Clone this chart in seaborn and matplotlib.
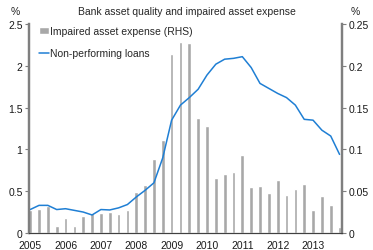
import numpy as np
import pandas as pd
import matplotlib
matplotlib.use("Agg")
import matplotlib.pyplot as plt
import seaborn as sns

# quarterly dates, 2005 Q1 .. 2013 Q4
quarters = [2005 + 0.25 * i for i in range(36)]

# Non-performing loans (% , LHS)
npl = [0.28, 0.33, 0.33, 0.28, 0.29, 0.27, 0.25, 0.215,
       0.28, 0.275, 0.30, 0.34, 0.43, 0.51, 0.60, 0.90,
       1.35, 1.53, 1.62, 1.72, 1.89, 2.02, 2.08, 2.09,
       2.11, 1.98, 1.79, 1.73, 1.67, 1.62, 1.53, 1.36,
       1.35, 1.23, 1.16, 0.94]

# Impaired asset expense (% , RHS)
impaired = [0.028, 0.029, 0.032, 0.008, 0.018, 0.008, 0.020, 0.024,
            0.024, 0.025, 0.0225, 0.027, 0.049, 0.057, 0.089, 0.111,
            0.214, 0.229, 0.227, 0.138, 0.128, 0.066, 0.070, 0.073,
            0.093, 0.055, 0.056, 0.048, 0.063, 0.045, 0.053, 0.058,
            0.027, 0.044, 0.033, 0.007]

year_ticks = list(range(2005, 2014))

df = pd.DataFrame({"date": quarters, "npl": npl, "impaired": impaired})

sns.set_theme(style="white")
plt.rcParams["font.family"] = ["Liberation Sans", "DejaVu Sans"]
plt.rcParams["font.size"] = 7.5

fig = plt.figure(figsize=(3.73, 2.51), dpi=100)
ax = fig.add_axes([0.079, 0.068, 0.838, 0.832])
ax2 = ax.twinx()

# bars on the base axes (drawn underneath the line)
sns.barplot(data=df, x="date", y="impaired", native_scale=True, width=0.42,
            color="#a8a8a8", saturation=1, ax=ax, label="Impaired asset expense (RHS)")
sns.lineplot(data=df, x="date", y="npl", color="#1f7fd4", linewidth=1.1,
             ax=ax2, label="Non-performing loans")

# swap sides: bars, line off the left
ax.yaxis.tick_right()
ax.yaxis.set_label_position("right")
ax2.yaxis.tick_left()
ax2.yaxis.set_label_position("left")

ax.set_ylim(0, 0.25)
ax.set_yticks([0, 0.05, 0.1, 0.15, 0.2, 0.25])
ax.set_yticklabels(["0", "0.05", "0.1", "0.15", "0.2", "0.25"])
ax2.set_ylim(0, 2.5)
ax2.set_yticks([0, 0.5, 1, 1.5, 2, 2.5])
ax2.set_yticklabels(["0", "0.5", "1", "1.5", "2", "2.5"])

ax.set_xlim(2004.98, 2013.82)
ax.set_xticks(year_ticks)
ax.set_xticklabels([str(y) for y in year_ticks])

for a in (ax, ax2):
    a.set_xlabel("")
    a.set_ylabel("")
    a.spines["top"].set_visible(False)
    a.spines["left"].set_color("#7f7f7f")
    a.spines["left"].set_linewidth(1.6)
    a.spines["right"].set_color("#7f7f7f")
    a.spines["right"].set_linewidth(1.6)
    a.spines["bottom"].set_color("#404040")
    a.spines["bottom"].set_linewidth(0.8)
    a.tick_params(length=3, width=0.8, color="#7f7f7f", labelsize=7.5, pad=2,
                  labelcolor="#1a1a1a")

# combined legend
h1, l1 = ax.get_legend_handles_labels()
h2, l2 = ax2.get_legend_handles_labels()
if ax.get_legend():
    ax.get_legend().remove()
ax2.legend(h1 + h2, l1 + l2, loc="upper left", frameon=False, fontsize=7.5,
           bbox_to_anchor=(0.012, 1.02), handlelength=0.9, handletextpad=0.1,
           labelspacing=1.15, borderaxespad=0.2)

fig.text(0.5, 0.952, "Bank asset quality and impaired asset expense",
         ha="center", va="center", fontsize=7.5)
fig.text(0.042, 0.952, "%", ha="center", va="center", fontsize=7.5)
fig.text(0.952, 0.952, "%", ha="center", va="center", fontsize=7.5)

fig.savefig("out.png", dpi=100)
